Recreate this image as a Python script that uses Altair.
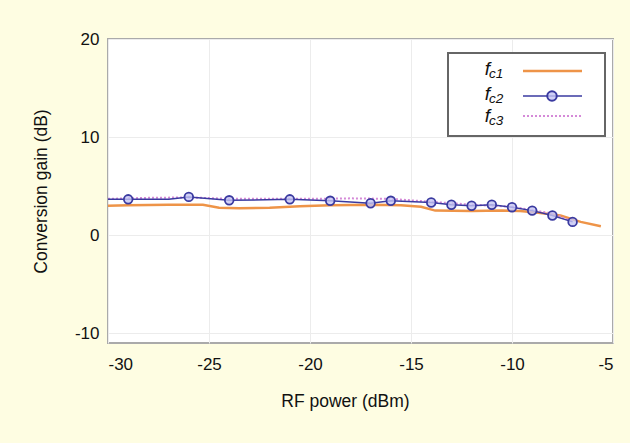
import altair as alt
import pandas as pd

# ---- data ----
orange_x = [-30, -29, -27, -25.3, -24.5, -23.5, -22, -20.5, -19, -17, -15.5, -14.5, -13.8, -12, -10.5, -9.6, -8.8, -7.6, -6.6, -5.6]
orange_y = [3.0, 3.05, 3.1, 3.1, 2.8, 2.75, 2.8, 2.95, 3.05, 3.1, 3.05, 2.9, 2.5, 2.45, 2.5, 2.45, 2.3, 2.0, 1.35, 0.9]

blue_line_x = [-30, -29, -27, -26, -24, -21, -19, -17, -16, -14, -13, -12, -11, -10, -9, -8, -7]
blue_line_y = [3.65, 3.65, 3.65, 3.9, 3.55, 3.65, 3.5, 3.25, 3.5, 3.33, 3.1, 3.0, 3.1, 2.85, 2.5, 2.0, 1.35]
blue_mark_x = [-29, -26, -24, -21, -19, -17, -16, -14, -13, -12, -11, -10, -9, -8, -7]
blue_mark_y = [3.65, 3.9, 3.55, 3.65, 3.5, 3.25, 3.5, 3.33, 3.1, 3.0, 3.1, 2.85, 2.5, 2.0, 1.35]

pink_x = [-30, -28, -26, -24, -22, -20, -18, -16, -14, -12, -10, -8, -7]
pink_y = [3.7, 3.8, 3.85, 3.7, 3.7, 3.7, 3.75, 3.7, 3.4, 3.1, 2.9, 2.2, 1.4]

x_ticks = [-30, -25, -20, -15, -10, -5]
y_ticks = [-10, 0, 10, 20]

ORANGE = "#EE9448"
BLUE = "#3A3AA0"
PINK = "#D58AD8"

df_o = pd.DataFrame({"x": orange_x, "y": orange_y})
df_bl = pd.DataFrame({"x": blue_line_x, "y": blue_line_y})
df_bm = pd.DataFrame({"x": blue_mark_x, "y": blue_mark_y})
df_p = pd.DataFrame({"x": pink_x, "y": pink_y})

FONT = "Liberation Sans"

xs = alt.Scale(domain=[-30, -5], nice=False, zero=False)
ys = alt.Scale(domain=[-11, 20], nice=False, zero=False)

X = alt.X("x:Q", scale=xs, title="RF power (dBm)",
          axis=alt.Axis(values=x_ticks, grid=True, gridColor="#ececec", domain=False, ticks=False,
                        labelExpr="datum.value + ''",
                        labelPadding=13, labelFontSize=17, labelColor="#111", titleFontSize=17.5,
                        titleFontWeight="normal", titlePadding=20, titleColor="#111", titleX=237,
                        labelFont=FONT, titleFont=FONT))
Y = alt.Y("y:Q", scale=ys, title="Conversion gain (dB)",
          axis=alt.Axis(values=y_ticks, grid=True, gridColor="#ececec", domain=False, ticks=False,
                        labelExpr="datum.value + ''",
                        labelPadding=9, labelFontSize=17, labelColor="#111", titleFontSize=17.5,
                        titleFontWeight="normal", titlePadding=24, titleColor="#111",
                        labelFont=FONT, titleFont=FONT))

orange = alt.Chart(df_o).mark_line(color=ORANGE, strokeWidth=2.5).encode(x=X, y=Y)
pink = alt.Chart(df_p).mark_line(color=PINK, strokeWidth=2, strokeDash=[2, 2]).encode(x="x:Q", y="y:Q")
blue_line = alt.Chart(df_bl).mark_line(color=BLUE, strokeWidth=1.5).encode(x="x:Q", y="y:Q")
blue_pts = alt.Chart(df_bm).mark_point(shape="circle", size=75, filled=False, stroke=BLUE, strokeWidth=1.8,
                                        fill="#C4C4F4", fillOpacity=0.8).encode(x="x:Q", y="y:Q")

one = pd.DataFrame({"a": [0]})
base = alt.Chart(one)

legend_box = base.mark_rect(fill="white", stroke="#666", strokeWidth=2).encode(
    x=alt.value(340), x2=alt.value(497), y=alt.value(14), y2=alt.value(97))

rows = [("1", 31), ("2", 56), ("3", 78)]
texts = []
for sub, yc in rows:
    texts.append(base.mark_text(text="f", font=FONT, fontSize=19, fontStyle="italic", align="right",
                                baseline="alphabetic", color="#111").encode(
        x=alt.value(382), y=alt.value(yc + 5)))
    texts.append(base.mark_text(text="c" + sub, font=FONT, fontSize=13.5, fontStyle="italic", align="left",
                                baseline="alphabetic", color="#111").encode(
        x=alt.value(381), y=alt.value(yc + 8)))

leg_o = base.mark_rule(color=ORANGE, strokeWidth=2.5).encode(
    x=alt.value(415), x2=alt.value(474), y=alt.value(32))
leg_b = base.mark_rule(color=BLUE, strokeWidth=1.5).encode(
    x=alt.value(415), x2=alt.value(474), y=alt.value(57))
leg_bp = base.mark_point(shape="circle", size=90, filled=False, stroke=BLUE, strokeWidth=2,
                         fill="#C4C4F4", fillOpacity=0.8).encode(x=alt.value(444), y=alt.value(57))
leg_p = base.mark_rule(color=PINK, strokeWidth=2, strokeDash=[2, 2]).encode(
    x=alt.value(415), x2=alt.value(474), y=alt.value(77))

chart = alt.layer(orange, pink, blue_line, blue_pts, legend_box, *texts, leg_o, leg_b, leg_bp, leg_p).properties(
    width=505, height=304,
    autosize=alt.AutoSizeParams(type="none"),
    padding={"left": 108, "top": 39, "right": 17, "bottom": 100},
    background="#FEFDE2",
).configure_view(fill="white", stroke="#aaaaaa", strokeWidth=2)

chart.save("out.html", embed_options={"renderer": "svg", "actions": False})
